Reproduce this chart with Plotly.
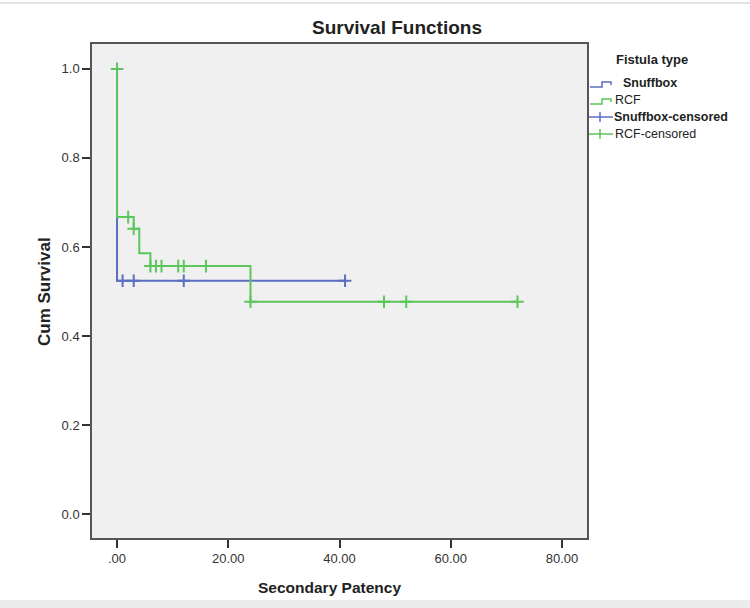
import plotly.graph_objects as go

# ---- data ----
snuff_times = [0, 0, 41]
snuff_surv = [1.0, 0.524, 0.524]
snuff_cens_t = [1, 3, 12, 41]
snuff_cens_s = [0.524, 0.524, 0.524, 0.524]

rcf_times = [0, 0, 3, 4, 6, 24, 72]
rcf_surv = [1.0, 0.667, 0.641, 0.586, 0.557, 0.477, 0.477]
rcf_cens_t = [0, 2, 3, 6, 7, 8, 11, 12, 16, 24, 48, 52, 72]
rcf_cens_s = [1.0, 0.667, 0.641, 0.557, 0.557, 0.557, 0.557, 0.557, 0.557, 0.477, 0.477, 0.477, 0.477]

x_ticks = [0, 20, 40, 60, 80]
x_labels = [".00", "20.00", "40.00", "60.00", "80.00"]
y_ticks = [0.0, 0.2, 0.4, 0.6, 0.8, 1.0]
y_labels = ["0.0", "0.2", "0.4", "0.6", "0.8", "1.0"]

legend_title = "Fistula type"
legend_names = ["<b>Snuffbox</b>", "RCF", "<b>Snuffbox-censored</b>", "RCF-censored"]

BLUE = "#5b6fc0"
GREEN = "#5cc65c"
FONT = "Liberation Sans, Arial, sans-serif"

W, H = 750, 608
L, R, T, B = 92, 587, 44, 538


def px(xp):
    return (xp - L) / (R - L)


def py(yp):
    return (B - yp) / (B - T)


fig = go.Figure()
fig.add_trace(go.Scatter(x=snuff_times, y=snuff_surv, mode="lines", line=dict(color=BLUE, width=2, shape="hv"),
                         showlegend=False, hoverinfo="skip"))
fig.add_trace(go.Scatter(x=rcf_times, y=rcf_surv, mode="lines", line=dict(color=GREEN, width=2, shape="hv"),
                         showlegend=False, hoverinfo="skip"))
fig.add_trace(go.Scatter(x=snuff_cens_t, y=snuff_cens_s, mode="markers",
                         marker=dict(symbol="cross-thin", size=9, line=dict(color=BLUE, width=2)),
                         showlegend=False))
fig.add_trace(go.Scatter(x=rcf_cens_t, y=rcf_cens_s, mode="markers",
                         marker=dict(symbol="cross-thin", size=9, line=dict(color=GREEN, width=2)),
                         showlegend=False))

shapes = []
annotations = []

# title
annotations.append(dict(text="<b>Survival Functions</b>", x=px(397), y=py(28), xref="paper", yref="paper",
                        showarrow=False, font=dict(family=FONT, size=19, color="#222"), xanchor="center", yanchor="middle"))

# axis titles
annotations.append(dict(text="<b>Secondary Patency</b>", x=px(329), y=py(587), xref="paper", yref="paper",
                        showarrow=False, font=dict(family=FONT, size=15.5, color="#222"), xanchor="center", yanchor="middle"))
annotations.append(dict(text="<b>Cum Survival</b>", x=px(44), y=py(292), xref="paper", yref="paper", textangle=-90,
                        showarrow=False, font=dict(family=FONT, size=17, color="#222"), xanchor="center", yanchor="middle"))

# legend (manual)
annotations.append(dict(text="<b>" + legend_title + "</b>", x=px(614), y=py(60), xref="paper", yref="paper",
                        showarrow=False, font=dict(family=FONT, size=13, color="#222"), xanchor="left", yanchor="middle"))

rows = [83, 100, 117, 134]
text_x = [621, 613, 612, 613]
colors = [BLUE, GREEN, BLUE, GREEN]
for i, (yy, tx, c, name) in enumerate(zip(rows, text_x, colors, legend_names)):
    if i < 2:
        pts = [(590, yy + 4), (602, yy + 4), (602, yy - 1), (611, yy - 1), (611, yy + 2)]
        path = "M " + " L ".join(f"{px(a)},{py(b)}" for a, b in pts)
        shapes.append(dict(type="path", path=path, xref="paper", yref="paper", line=dict(color=c, width=1.5)))
    else:
        shapes.append(dict(type="line", x0=px(589), x1=px(613), y0=py(yy), y1=py(yy), xref="paper", yref="paper",
                           line=dict(color=c, width=1.5)))
        shapes.append(dict(type="line", x0=px(600), x1=px(600), y0=py(yy - 5), y1=py(yy + 5), xref="paper",
                           yref="paper", line=dict(color=c, width=1.5)))
    annotations.append(dict(text=name, x=px(tx), y=py(yy), xref="paper", yref="paper", showarrow=False,
                            font=dict(family=FONT, size=12.5, color="#222"), xanchor="left", yanchor="middle"))

# page border strips
shapes.append(dict(type="rect", x0=px(0), x1=px(750), y0=py(600), y1=py(608), xref="paper", yref="paper",
                   fillcolor="#ececec", line=dict(width=0), layer="below"))
shapes.append(dict(type="line", x0=px(0), x1=px(750), y0=py(3), y1=py(3), xref="paper", yref="paper",
                   line=dict(color="#e2e2e2", width=2), layer="below"))

fig.update_layout(
    width=W, height=H,
    margin=dict(l=L, r=W - R, t=T, b=H - B),
    paper_bgcolor="white", plot_bgcolor="#f0f0f0",
    font=dict(family=FONT, size=12, color="#333"),
    shapes=shapes, annotations=annotations,
    showlegend=False,
)
fig.update_xaxes(range=[-4.5, 84.5], tickvals=x_ticks, ticktext=x_labels, ticks="outside", ticklen=8,
                 tickcolor="#333", tickwidth=1.5, showgrid=False, zeroline=False, showline=True, mirror=True,
                 linecolor="#555", linewidth=1.5,
                 tickfont=dict(family=FONT, size=13, color="#333"))
fig.update_yaxes(range=[-0.054, 1.056], tickvals=y_ticks, ticktext=y_labels, ticks="outside", ticklen=8,
                 tickcolor="#333", tickwidth=1.5, showgrid=False, zeroline=False, showline=True, mirror=True,
                 linecolor="#555", linewidth=1.5,
                 tickfont=dict(family=FONT, size=13, color="#333"))

fig.write_html("out.html")
